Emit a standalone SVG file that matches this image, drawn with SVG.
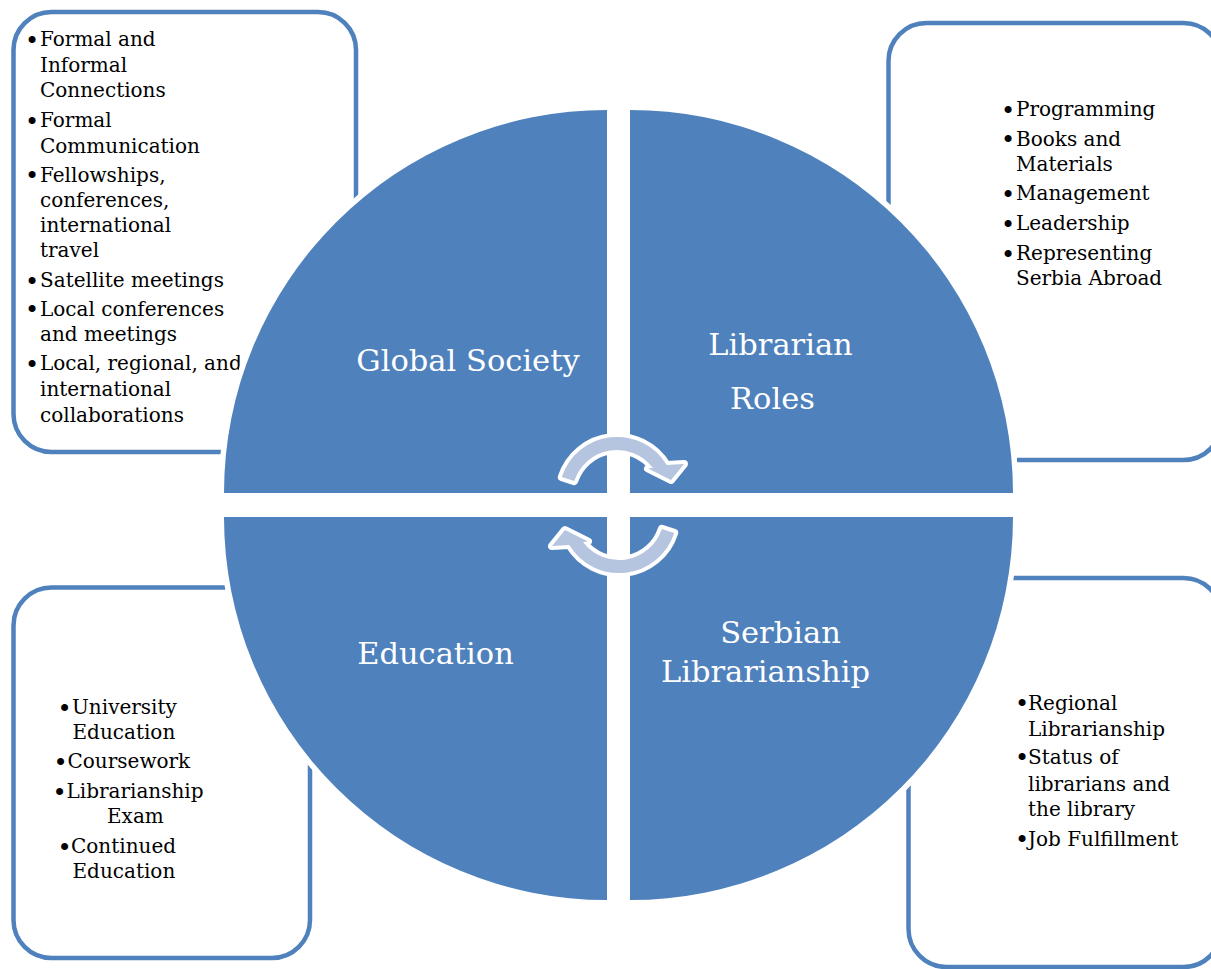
<svg xmlns="http://www.w3.org/2000/svg" width="1211" height="969" viewBox="0 0 1211 969">
<style>
.box{fill:#fff;stroke:#4F81BD;stroke-width:4.5}
.q{fill:#4F81BD;stroke:#fff;stroke-width:11;stroke-linejoin:miter;paint-order:stroke}
.t{font-family:'DejaVu Serif','Liberation Serif',serif;font-size:20px;fill:#000}
.b{text-anchor:middle;font-size:24px}
.lbl{font-family:'DejaVu Serif','Liberation Serif',serif;font-size:30.5px;fill:#fff;text-anchor:middle}
.arr{fill:#B5C4DF;stroke:#fff;stroke-width:8;stroke-linejoin:round;paint-order:stroke}
</style>
<rect width="1211" height="969" fill="#fff"/>
<g id="box-global">
<rect class="box" x="13.5" y="12" width="342.5" height="440" rx="38"/>
<text class="t"><tspan class="b" x="32" y="48.5">•</tspan><tspan x="40" y="46">Formal and</tspan><tspan x="40" y="71.5">Informal</tspan><tspan x="40" y="97">Connections</tspan><tspan class="b" x="32" y="129.5">•</tspan><tspan x="40" y="127">Formal</tspan><tspan x="40" y="152.5">Communication</tspan><tspan class="b" x="32" y="184">•</tspan><tspan x="40" y="181.5">Fellowships,</tspan><tspan x="40" y="206.5">conferences,</tspan><tspan x="40" y="232">international</tspan><tspan x="40" y="257">travel</tspan><tspan class="b" x="32" y="289.5">•</tspan><tspan x="40" y="287">Satellite meetings</tspan><tspan class="b" x="32" y="318">•</tspan><tspan x="40" y="315.5">Local conferences</tspan><tspan x="40" y="341">and meetings</tspan><tspan class="b" x="32" y="372.5">•</tspan><tspan x="40" y="370">Local, regional, and</tspan><tspan x="40" y="396">international</tspan><tspan x="40" y="421.5">collaborations</tspan></text>
</g>
<g id="box-roles">
<rect class="box" x="888.5" y="23" width="333" height="437" rx="38"/>
<text class="t"><tspan class="b" x="1008" y="118.5">•</tspan><tspan x="1016" y="116">Programming</tspan><tspan class="b" x="1008" y="148">•</tspan><tspan x="1016" y="145.5">Books and</tspan><tspan x="1016" y="170.5">Materials</tspan><tspan class="b" x="1008" y="202.5">•</tspan><tspan x="1016" y="200">Management</tspan><tspan class="b" x="1008" y="232.5">•</tspan><tspan x="1016" y="230">Leadership</tspan><tspan class="b" x="1008" y="262.5">•</tspan><tspan x="1016" y="260">Representing</tspan><tspan x="1016" y="285">Serbia Abroad</tspan></text>
</g>
<g id="box-education">
<rect class="box" x="13.5" y="587.5" width="296.5" height="370.5" rx="38"/>
<text class="t"><tspan class="b" x="64.5" y="716.5">•</tspan><tspan x="72" y="714">University</tspan><tspan x="72.5" y="739">Education</tspan><tspan class="b" x="60.5" y="770.5">•</tspan><tspan x="67.5" y="768">Coursework</tspan><tspan class="b" x="59.5" y="800.5">•</tspan><tspan x="66.5" y="798">Librarianship</tspan><tspan x="107" y="823">Exam</tspan><tspan class="b" x="64.5" y="855.5">•</tspan><tspan x="71" y="853">Continued</tspan><tspan x="72.5" y="878">Education</tspan></text>
</g>
<g id="box-serbian">
<rect class="box" x="908.5" y="578" width="313" height="389" rx="38"/>
<text class="t"><tspan class="b" x="1022" y="712">•</tspan><tspan x="1028" y="709.5">Regional</tspan><tspan x="1028" y="736">Librarianship</tspan><tspan class="b" x="1022" y="766">•</tspan><tspan x="1028" y="763.5">Status of</tspan><tspan x="1028" y="790.5">librarians and</tspan><tspan x="1028" y="815.5">the library</tspan><tspan class="b" x="1022" y="848">•</tspan><tspan x="1028" y="845.5">Job Fulfillment</tspan></text>
</g>
<g id="q-global">
<path class="q" d="M607,493 L224,493 A383,383 0 0 1 607,110 Z"/>
<text class="lbl" x="468" y="371">Global Society</text>
</g>
<g id="q-roles">
<path class="q" d="M630,493 L630,110 A383,383 0 0 1 1013,493 Z"/>
<text class="lbl"><tspan x="780.5" y="355">Librarian</tspan><tspan x="772.5" y="409">Roles</tspan></text>
</g>
<g id="q-education">
<path class="q" d="M607,517 L607,900 A383,383 0 0 1 224,517 Z"/>
<text class="lbl" x="435.5" y="664">Education</text>
</g>
<g id="q-serbian">
<path class="q" d="M630,517 L1013,517 A383,383 0 0 1 630,900 Z"/>
<text class="lbl"><tspan x="780.5" y="643">Serbian</tspan><tspan x="765.5" y="682">Librarianship</tspan></text>
</g>
<defs>
<path id="carrow" d="M561.8,477.1 A58,58 0 0 1 666.7,465 L684,464 L671,480 L648,468.5 L653,468 A45,45 0 0 0 574.2,481.1 Z"/>
</defs>
<g id="connectors">
<use href="#carrow" class="arr"/>
<use href="#carrow" class="arr" transform="rotate(180 618 505)"/>
</g>
</svg>
